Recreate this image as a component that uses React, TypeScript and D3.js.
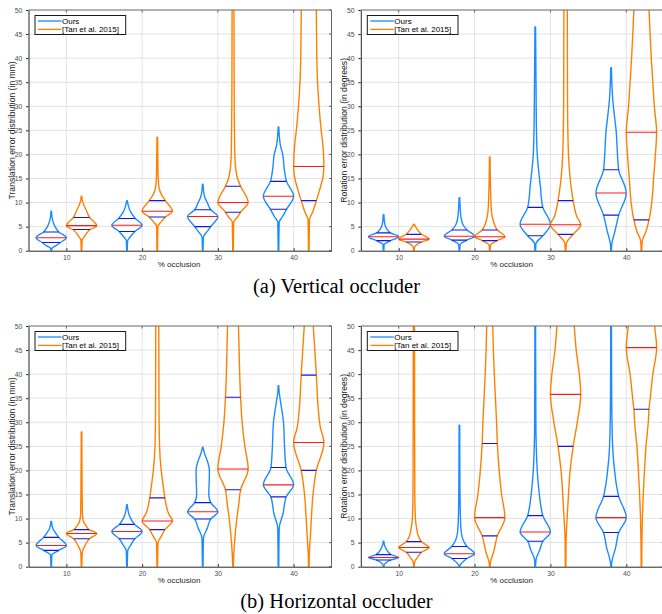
import React, { useEffect, useRef } from 'react';
import * as d3 from 'd3';

type Profile = [number, number][];
type Stats = [number, number, number | null];

const OCCLUSION = [10, 20, 30, 40];
const Y_TICKS = [0, 5, 10, 15, 20, 25, 30, 35, 40, 45, 50];
const SERIES_NAMES = ['Ours', '[Tan et al. 2015]'];
const CAPTIONS = ['(a) Vertical occluder', '(b) Horizontal occluder'];
const Y_LABELS = ['Translation error distribution (in mm)', 'Rotation error distribution (in degrees)'];
const X_LABEL = '% occlusion';

// violin profiles: [error value, relative half width]; stats: [q1, median, q3]
// (a) vertical occluder, translation
const vtOursShape: Profile[] = [
  [[0, 0.02], [0.5, 0.05], [1, 0.3], [1.7, 0.6], [2.7, 1], [3.9, 0.5], [5, 0.25], [6, 0.12], [7, 0.05], [8.2, 0.02]],
  [[0, 0.02], [2, 0.04], [3, 0.25], [4, 0.52], [5.3, 1], [6.7, 0.55], [8, 0.25], [9, 0.12], [10.4, 0.02]],
  [[0, 0.02], [2.8, 0.04], [4, 0.3], [5, 0.53], [7.1, 1], [8.5, 0.53], [10, 0.3], [11, 0.15], [12, 0.07], [13.8, 0.02]],
  [[0, 0.02], [6, 0.05], [7, 0.25], [8.6, 0.53], [11.3, 1], [14.4, 0.53], [17, 0.38], [20, 0.28], [22, 0.12], [24, 0.05], [25.7, 0.02]],
];
const vtOursStats: Stats[] = [[1.7, 2.7, 3.9], [4.0, 5.3, 6.7], [5.0, 7.1, 8.5], [8.6, 11.3, 14.4]];
const vtTanShape: Profile[] = [
  [[0, 0.02], [2.2, 0.04], [3, 0.2], [4.4, 0.57], [5.2, 1], [6.9, 0.53], [8.5, 0.3], [9.5, 0.15], [10.5, 0.05], [11.3, 0.02]],
  [[0, 0.02], [5, 0.04], [6, 0.25], [7, 0.54], [8.2, 1], [10.4, 0.53], [11.5, 0.3], [13, 0.12], [15, 0.06], [18, 0.04], [23.6, 0.02]],
  [[0, 0.02], [6, 0.05], [7, 0.3], [8, 0.5], [10, 1], [13.4, 0.5], [15, 0.3], [17, 0.18], [20, 0.12], [30, 0.08], [50, 0.06], [55, 0.05]],
  [[0, 0.02], [6.5, 0.05], [8, 0.25], [10.4, 0.5], [13, 0.75], [15, 0.92], [17.5, 1], [22, 0.93], [25, 0.82], [30, 0.68], [35, 0.58], [40, 0.53], [50, 0.5], [55, 0.5]],
];
const vtTanStats: Stats[] = [[4.4, 5.2, 6.9], [7.0, 8.2, 10.4], [8.0, 10.0, 13.4], [10.4, 17.5, null]];

// (a) vertical occluder, rotation
const vrOursShape: Profile[] = [
  [[0, 0.02], [1.3, 0.04], [2, 0.4], [2.9, 1], [3.7, 0.45], [4.5, 0.22], [5.5, 0.08], [7.5, 0.02]],
  [[0, 0.02], [1.3, 0.05], [2.2, 0.5], [3, 1], [4.3, 0.5], [5.5, 0.22], [7, 0.1], [9, 0.05], [11, 0.02]],
  [[0, 0.02], [1.5, 0.05], [3.1, 0.5], [5.5, 1], [9, 0.5], [11, 0.4], [13, 0.35], [15, 0.28], [18, 0.18], [20, 0.13], [25, 0.08], [35, 0.05], [46.5, 0.02]],
  [[0, 0.02], [1.5, 0.05], [4, 0.25], [7.4, 0.5], [12, 1], [16.8, 0.5], [20, 0.42], [25, 0.33], [28, 0.22], [31, 0.12], [34, 0.06], [38, 0.02]],
];
const vrOursStats: Stats[] = [[2.1, 2.9, 3.7], [2.2, 3.0, 4.3], [3.1, 5.5, 9.0], [7.4, 12.0, 16.8]];
const vrTanShape: Profile[] = [
  [[0, 0.02], [0.8, 0.05], [1.8, 0.5], [2.4, 1], [3.4, 0.5], [4.3, 0.25], [5.5, 0.02]],
  [[0, 0.02], [1.2, 0.05], [2.1, 0.5], [2.9, 1], [4.3, 0.5], [6, 0.25], [8, 0.12], [12, 0.06], [19.5, 0.02]],
  [[0, 0.02], [1.5, 0.05], [3.4, 0.5], [5.4, 1], [7, 0.75], [10.4, 0.5], [12, 0.42], [15, 0.3], [20, 0.19], [30, 0.13], [50, 0.11], [55, 0.1]],
  [[0, 0.02], [2, 0.05], [4, 0.3], [6.4, 0.5], [10, 0.68], [15, 0.8], [20, 0.92], [24.6, 1], [30, 0.85], [35, 0.75], [40, 0.65], [45, 0.57], [50, 0.5], [55, 0.45]],
];
const vrTanStats: Stats[] = [[1.8, 2.4, 3.4], [2.1, 2.9, 4.3], [3.4, 5.4, 10.4], [6.4, 24.6, null]];

// (b) horizontal occluder, translation
const htOursShape: Profile[] = [
  [[0, 0.02], [2.4, 0.04], [3.4, 0.5], [4.4, 1], [6.1, 0.5], [7.2, 0.25], [8, 0.1], [9.4, 0.02]],
  [[0, 0.02], [3.3, 0.05], [4.5, 0.25], [5.8, 0.52], [7.3, 1], [8.8, 0.5], [10, 0.25], [11, 0.12], [12.9, 0.02]],
  [[0, 0.02], [6, 0.05], [8, 0.3], [9.9, 0.53], [11.4, 1], [13.3, 0.53], [15, 0.4], [18, 0.43], [20, 0.44], [22, 0.3], [23.5, 0.12], [24.8, 0.02]],
  [[0, 0.02], [8, 0.05], [11, 0.3], [14.5, 0.5], [17, 1], [20.6, 0.5], [25, 0.4], [30, 0.33], [33, 0.2], [35, 0.1], [36.5, 0.04], [37.6, 0.02]],
];
const htOursStats: Stats[] = [[3.4, 4.4, 6.1], [5.8, 7.3, 8.8], [9.9, 11.4, 13.3], [14.5, 17.0, 20.6]];
const htTanShape: Profile[] = [
  [[0, 0.02], [3, 0.05], [4.5, 0.25], [5.8, 0.52], [6.9, 1], [7.7, 0.5], [8.5, 0.3], [9.5, 0.12], [11, 0.06], [15, 0.04], [28, 0.02]],
  [[0, 0.02], [5, 0.05], [6.5, 0.3], [7.7, 0.5], [9.5, 1], [11, 0.75], [14.3, 0.5], [17, 0.38], [20, 0.26], [25, 0.15], [35, 0.11], [50, 0.1], [55, 0.1]],
  [[0, 0.02], [2, 0.04], [5, 0.1], [10, 0.25], [13, 0.38], [16, 0.5], [20.3, 1], [25, 0.78], [30, 0.6], [35.2, 0.5], [40, 0.44], [45, 0.4], [50, 0.36], [55, 0.33]],
  [[0, 0.02], [3, 0.04], [6, 0.1], [10, 0.17], [15, 0.28], [20, 0.5], [25.8, 1], [29, 0.76], [33, 0.62], [39.8, 0.5], [45, 0.4], [50, 0.3], [55, 0.25]],
];
const htTanStats: Stats[] = [[5.8, 6.9, 7.7], [7.7, 9.5, 14.3], [16.0, 20.3, 35.2], [20.0, 25.8, 39.8]];

// (b) horizontal occluder, rotation
const hrOursShape: Profile[] = [
  [[0, 0.02], [0.4, 0.05], [1.4, 0.5], [1.9, 1], [2.5, 0.5], [3.3, 0.25], [4.3, 0.08], [5.3, 0.02]],
  [[0, 0.02], [0.3, 0.05], [1.7, 0.5], [2.7, 1], [4.2, 0.5], [5.5, 0.25], [7, 0.13], [10, 0.07], [15, 0.04], [29.4, 0.02]],
  [[0, 0.02], [1.5, 0.05], [3.5, 0.3], [5.3, 0.5], [7.2, 1], [10.6, 0.5], [13, 0.35], [15, 0.27], [20, 0.13], [30, 0.04], [55, 0.02]],
  [[0, 0.02], [1, 0.05], [4, 0.3], [7.1, 0.5], [10.2, 1], [14.6, 0.5], [17, 0.35], [20, 0.23], [25, 0.1], [35, 0.04], [55, 0.02]],
];
const hrOursStats: Stats[] = [[1.4, 1.9, 2.5], [1.7, 2.7, 4.2], [5.3, 7.2, 10.6], [7.1, 10.2, 14.6]];
const hrTanShape: Profile[] = [
  [[0, 0.02], [1, 0.05], [2, 0.25], [3, 0.5], [4, 1], [5.2, 0.5], [6.5, 0.28], [8, 0.18], [10, 0.1], [15, 0.06], [50, 0.04], [55, 0.04]],
  [[0, 0.02], [1, 0.05], [3, 0.25], [6.4, 0.5], [10.2, 1], [15, 0.78], [20, 0.62], [25.6, 0.5], [30, 0.45], [40, 0.3], [45, 0.24], [50, 0.2], [55, 0.18]],
  [[0, 0.02], [5, 0.03], [10, 0.1], [15, 0.19], [20, 0.3], [25, 0.5], [30, 0.77], [35.8, 1], [39.5, 0.92], [45, 0.7], [50, 0.57], [55, 0.5]],
  [[0, 0.02], [5, 0.03], [10, 0.06], [15, 0.12], [20, 0.2], [25, 0.3], [30, 0.45], [32.7, 0.5], [35, 0.58], [40, 0.75], [45.5, 1], [50, 0.87], [55, 0.75]],
];
const hrTanStats: Stats[] = [[3.0, 4.0, 5.2], [6.4, 10.2, 25.6], [25.0, 35.8, null], [32.7, 45.5, null]];

const BLUE = '#1a8cff';
const ORANGE = '#ff8000';
const QUART = '#1414e6';
const MEDIAN = '#ff1a1a';
const SANS = '"Liberation Sans", Arial, Helvetica, sans-serif';
const SERIF = '"Liberation Serif", "Times New Roman", serif';
const HALF = 2; // max violin half width in x units

interface Panel {
  left: number; right: number; top: number; bottom: number;
  ylabel: string;
  ours: [Profile[], Stats[]];
  tan: [Profile[], Stats[]];
}

const PANELS: Panel[] = [
  { left: 28.5, right: 331.5, top: 10, bottom: 250.7, ylabel: Y_LABELS[0], ours: [vtOursShape, vtOursStats], tan: [vtTanShape, vtTanStats] },
  { left: 360.8, right: 664.2, top: 10, bottom: 250.7, ylabel: Y_LABELS[1], ours: [vrOursShape, vrOursStats], tan: [vrTanShape, vrTanStats] },
  { left: 28.5, right: 331.5, top: 326, bottom: 566.7, ylabel: Y_LABELS[0], ours: [htOursShape, htOursStats], tan: [htTanShape, htTanStats] },
  { left: 360.8, right: 664.2, top: 326, bottom: 566.7, ylabel: Y_LABELS[1], ours: [hrOursShape, hrOursStats], tan: [hrTanShape, hrTanStats] },
];

export default function App() {
  const svgRef = useRef<SVGSVGElement>(null);

  useEffect(() => {
    if (!svgRef.current) return;
    const svg = d3.select(svgRef.current);
    svg.selectAll('*').remove();

    PANELS.forEach((p, idx) => {
      const x = d3.scaleLinear().domain([5, 45]).range([p.left, p.right]);
      const y = d3.scaleLinear().domain([0, 50]).range([p.bottom, p.top]);
      const g = svg.append('g');

      const clipId = `clip-${idx}`;
      g.append('clipPath').attr('id', clipId)
        .append('rect')
        .attr('x', p.left).attr('y', p.top)
        .attr('width', p.right - p.left).attr('height', p.bottom - p.top);

      // grid
      g.selectAll('.vgrid').data(OCCLUSION).join('line')
        .attr('x1', d => x(d)).attr('x2', d => x(d))
        .attr('y1', p.top).attr('y2', p.bottom)
        .attr('stroke', '#e2e2e2').attr('stroke-width', 1);
      g.selectAll('.hgrid').data(Y_TICKS.slice(1, -1)).join('line')
        .attr('x1', p.left).attr('x2', p.right)
        .attr('y1', d => y(d)).attr('y2', d => y(d))
        .attr('stroke', '#e2e2e2').attr('stroke-width', 1);

      // violins
      const plot = g.append('g').attr('clip-path', `url(#${clipId})`);
      const series: [[Profile[], Stats[]], number, string][] = [
        [p.ours, -2, BLUE],
        [p.tan, 2, ORANGE],
      ];
      series.forEach(([[shapes, stats], offset, color]) => {
        shapes.forEach((shape, i) => {
          const cx = OCCLUSION[i] + offset;
          const area = d3.area<[number, number]>()
            .y(d => y(d[0]))
            .x0(d => x(cx - HALF * d[1]))
            .x1(d => x(cx + HALF * d[1]))
            .curve(d3.curveMonotoneY);
          plot.append('path')
            .attr('d', area(shape))
            .attr('fill', 'none')
            .attr('stroke', color)
            .attr('stroke-width', 1.4)
            .attr('stroke-linejoin', 'round');

          const width = d3.scaleLinear()
            .domain(shape.map(d => d[0]))
            .range(shape.map(d => d[1]))
            .clamp(true);
          stats[i].forEach((v, k) => {
            if (v === null) return;
            const w = width(v);
            plot.append('line')
              .attr('x1', x(cx - HALF * w)).attr('x2', x(cx + HALF * w))
              .attr('y1', y(v)).attr('y2', y(v))
              .attr('stroke', k === 1 ? MEDIAN : QUART)
              .attr('stroke-width', 1.1);
          });
        });
      });

      // box top/right
      g.append('line').attr('x1', p.left).attr('x2', p.right).attr('y1', p.top).attr('y2', p.top)
        .attr('stroke', '#666').attr('stroke-width', 1);
      g.append('line').attr('x1', p.right).attr('x2', p.right).attr('y1', p.top).attr('y2', p.bottom)
        .attr('stroke', '#666').attr('stroke-width', 1);
      g.selectAll('.rtick').data(Y_TICKS).join('line')
        .attr('x1', p.right - 2.5).attr('x2', p.right)
        .attr('y1', d => y(d)).attr('y2', d => y(d))
        .attr('stroke', '#666');
      g.selectAll('.ttick').data(OCCLUSION).join('line')
        .attr('x1', d => x(d)).attr('x2', d => x(d))
        .attr('y1', p.top).attr('y2', p.top + 2.5)
        .attr('stroke', '#666');

      // axes
      const yAxis = g.append('g')
        .attr('transform', `translate(${p.left},0)`)
        .call(d3.axisLeft(y).tickValues(Y_TICKS).tickSize(2.5).tickSizeOuter(0).tickPadding(3.8));
      const xAxis = g.append('g')
        .attr('transform', `translate(0,${p.bottom})`)
        .call(d3.axisBottom(x).tickValues(OCCLUSION).tickSize(-2.5).tickSizeOuter(0).tickPadding(4));
      [yAxis, xAxis].forEach(a => {
        a.select('.domain').attr('stroke', '#262626').attr('stroke-width', 1);
        a.selectAll('.tick line').attr('stroke', '#262626');
        a.selectAll('.tick text')
          .attr('fill', '#4d4d4d')
          .attr('font-family', SANS)
          .attr('font-size', 6.8);
      });

      // labels
      g.append('text')
        .attr('x', (p.left + p.right) / 2 - 1)
        .attr('y', p.bottom + 16.3)
        .attr('text-anchor', 'middle')
        .attr('font-family', SANS).attr('font-size', 8)
        .attr('fill', '#262626')
        .text(X_LABEL);
      g.append('text')
        .attr('transform', `translate(${p.left - 17},${(p.top + p.bottom) / 2}) rotate(-90)`)
        .attr('text-anchor', 'middle')
        .attr('dominant-baseline', 'central')
        .attr('font-family', SANS).attr('font-size', 8.6)
        .attr('fill', '#262626')
        .text(p.ylabel);

      // legend
      const lg = g.append('g').attr('transform', `translate(${p.left + 6.5},${p.top + 5.5})`);
      lg.append('rect').attr('width', 90.7).attr('height', 19)
        .attr('fill', '#fff').attr('stroke', '#1a1a1a').attr('stroke-width', 1);
      [BLUE, ORANGE].forEach((c, k) => {
        const ly = 5.5 + k * 8.4;
        lg.append('line').attr('x1', 3).attr('x2', 26.5).attr('y1', ly).attr('y2', ly)
          .attr('stroke', c).attr('stroke-width', 1.3);
        lg.append('text').attr('x', 27).attr('y', ly + 2.8)
          .attr('font-family', SANS).attr('font-size', 8).attr('fill', '#000')
          .text(SERIES_NAMES[k]);
      });
    });

    // captions
    CAPTIONS.forEach((c, k) => {
      svg.append('text')
        .attr('x', 336.5)
        .attr('y', k === 0 ? 292.5 : 608)
        .attr('text-anchor', 'middle')
        .attr('font-family', SERIF).attr('font-size', 20.5)
        .attr('fill', '#000')
        .text(c);
    });
  }, []);

  return (
    <svg
      ref={svgRef}
      width={662}
      height={614}
      style={{ position: 'absolute', left: 0, top: 0, background: '#fff' }}
    />
  );
}
